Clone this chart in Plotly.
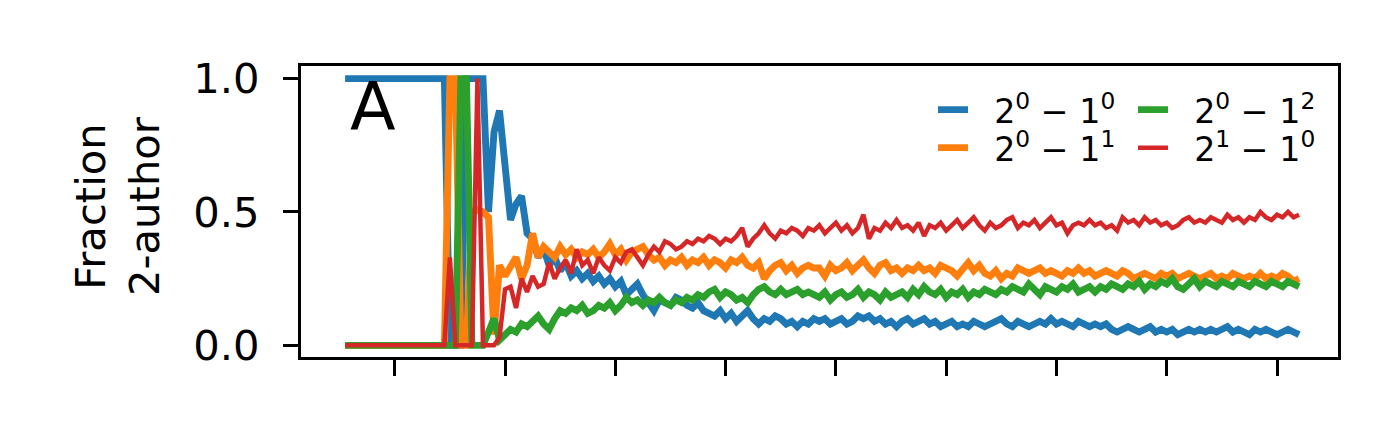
import plotly.graph_objects as go

# x positions (index of the time step)
x_values = list(range(1, 175))

# 2^0 - 1^0 (blue)
frac_2010 = (
    [1.0] * 19 + [0.0, 0.0, 0.0] + [1.0, 1.0, 1.0, 1.0] +
    [0.50, 0.80, 0.88, 0.64, 0.47, 0.53, 0.56, 0.42, 0.40, 0.33,
     0.36, 0.30, 0.33, 0.28, 0.31, 0.26, 0.28, 0.25, 0.27, 0.24,
     0.26, 0.23, 0.25, 0.22, 0.24, 0.19, 0.21, 0.23, 0.19, 0.16,
     0.13, 0.17, 0.16, 0.15, 0.18, 0.17, 0.15, 0.14, 0.16, 0.13,
     0.12, 0.11, 0.13, 0.10, 0.12, 0.09, 0.11, 0.13, 0.10, 0.08,
     0.10, 0.09, 0.11, 0.10, 0.08, 0.09, 0.07, 0.09, 0.08, 0.10,
     0.09, 0.10, 0.08, 0.09, 0.10, 0.08, 0.09, 0.11, 0.10, 0.11,
     0.09, 0.10, 0.08, 0.09, 0.07, 0.09, 0.10, 0.08, 0.09, 0.10,
     0.08, 0.09, 0.07, 0.08, 0.09, 0.07, 0.08, 0.07, 0.09, 0.08,
     0.07, 0.08, 0.09, 0.10, 0.08, 0.07, 0.09, 0.08, 0.07, 0.08,
     0.09, 0.08, 0.10, 0.08, 0.09, 0.08, 0.07, 0.09, 0.08, 0.07,
     0.08, 0.07, 0.08, 0.06, 0.05, 0.06, 0.07, 0.06, 0.05, 0.06,
     0.07, 0.05, 0.06, 0.05, 0.06, 0.04, 0.05, 0.06, 0.05, 0.06,
     0.05, 0.06, 0.05, 0.06, 0.07, 0.05, 0.06, 0.05, 0.04, 0.06,
     0.05, 0.06, 0.05, 0.04, 0.05, 0.06, 0.05, 0.04]
)

# 2^0 - 1^1 (orange)
frac_2011 = (
    [0.0] * 19 + [1.0, 1.0] + [0.0, 0.0] + [0.50, 0.51, 0.50] +
    [0.48, 0.04, 0.30, 0.26, 0.29, 0.33, 0.25, 0.30, 0.42, 0.33,
     0.37, 0.35, 0.33, 0.37, 0.34, 0.36, 0.33, 0.35, 0.34, 0.36,
     0.33, 0.35, 0.38, 0.34, 0.36, 0.32, 0.35, 0.36, 0.37, 0.34,
     0.32, 0.33, 0.30, 0.32, 0.31, 0.33, 0.30, 0.32, 0.31, 0.33,
     0.30, 0.32, 0.31, 0.29, 0.32, 0.31, 0.33, 0.30, 0.29, 0.31,
     0.25, 0.28, 0.30, 0.31, 0.28, 0.30, 0.27, 0.29, 0.30, 0.29,
     0.29, 0.26, 0.30, 0.28, 0.29, 0.31, 0.28, 0.30, 0.32, 0.29,
     0.27, 0.30, 0.31, 0.28, 0.29, 0.27, 0.29, 0.28, 0.30, 0.28,
     0.29, 0.27, 0.30, 0.29, 0.28, 0.26, 0.29, 0.31, 0.28, 0.30,
     0.27, 0.26, 0.28, 0.25, 0.27, 0.26, 0.29, 0.28, 0.27, 0.28,
     0.29, 0.27, 0.28, 0.27, 0.26, 0.28, 0.27, 0.29, 0.27, 0.28,
     0.26, 0.27, 0.28, 0.27, 0.26, 0.28, 0.27, 0.25, 0.26, 0.27,
     0.26, 0.25, 0.27, 0.26, 0.27, 0.25, 0.26, 0.27, 0.26, 0.25,
     0.26, 0.27, 0.25, 0.26, 0.25, 0.27, 0.26, 0.25, 0.26, 0.25,
     0.27, 0.25, 0.26, 0.25, 0.27, 0.26, 0.24, 0.25]
)

# 2^0 - 1^2 (green)
frac_2012 = (
    [0.0] * 21 + [1.0, 1.0] + [0.0, 0.0, 0.0] +
    [0.05, 0.10, 0.02, 0.04, 0.06, 0.05, 0.08, 0.07, 0.09, 0.11,
     0.08, 0.06, 0.10, 0.13, 0.12, 0.14, 0.13, 0.15, 0.12, 0.13,
     0.15, 0.14, 0.16, 0.13, 0.15, 0.18, 0.16, 0.17, 0.15, 0.17,
     0.16, 0.18, 0.16, 0.15, 0.17, 0.16, 0.18, 0.17, 0.19, 0.18,
     0.20, 0.21, 0.18, 0.20, 0.19, 0.17, 0.18, 0.16, 0.19, 0.21,
     0.22, 0.20, 0.19, 0.21, 0.19, 0.20, 0.21, 0.19, 0.20, 0.19,
     0.18, 0.20, 0.17, 0.19, 0.20, 0.18, 0.19, 0.21, 0.18, 0.20,
     0.19, 0.17, 0.20, 0.18, 0.19, 0.20, 0.18, 0.21, 0.19, 0.22,
     0.20, 0.19, 0.21, 0.18, 0.20, 0.19, 0.21, 0.18, 0.20, 0.19,
     0.21, 0.20, 0.19, 0.21, 0.20, 0.22, 0.21, 0.20, 0.23, 0.21,
     0.19, 0.22, 0.21, 0.20, 0.22, 0.21, 0.23, 0.20, 0.21, 0.22,
     0.20, 0.22, 0.21, 0.23, 0.22, 0.21, 0.23, 0.22, 0.24, 0.21,
     0.23, 0.22, 0.24, 0.23, 0.25, 0.22, 0.21, 0.23, 0.25, 0.22,
     0.24, 0.23, 0.22, 0.24, 0.23, 0.22, 0.24, 0.23, 0.22, 0.24,
     0.23, 0.22, 0.24, 0.23, 0.22, 0.24, 0.23, 0.22]
)

# 2^1 - 1^0 (red)
frac_2110 = (
    [0.0] * 19 + [0.33] + [0.0, 0.0, 0.0, 0.0] + [1.0] + [0.0, 0.0, 0.0] +
    [0.03, 0.21, 0.22, 0.14, 0.25, 0.20, 0.26, 0.22,
     0.23, 0.31, 0.25, 0.29, 0.32, 0.27, 0.36, 0.30, 0.32, 0.27,
     0.33, 0.30, 0.28, 0.33, 0.31, 0.35, 0.36, 0.33, 0.30, 0.34,
     0.37, 0.35, 0.39, 0.38, 0.36, 0.37, 0.39, 0.38, 0.40, 0.39,
     0.41, 0.40, 0.38, 0.40, 0.39, 0.41, 0.44, 0.37, 0.40, 0.42,
     0.45, 0.42, 0.40, 0.43, 0.42, 0.44, 0.43, 0.41, 0.44, 0.43,
     0.45, 0.42, 0.44, 0.46, 0.43, 0.45, 0.42, 0.44, 0.49, 0.40,
     0.44, 0.43, 0.46, 0.44, 0.47, 0.44, 0.45, 0.43, 0.46, 0.41,
     0.45, 0.44, 0.46, 0.43, 0.45, 0.47, 0.44, 0.46, 0.48, 0.45,
     0.43, 0.46, 0.44, 0.45, 0.47, 0.48, 0.44, 0.46, 0.45, 0.47,
     0.44, 0.46, 0.48, 0.45, 0.46, 0.42, 0.45, 0.46, 0.45, 0.47,
     0.45, 0.46, 0.44, 0.45, 0.43, 0.48, 0.46, 0.47, 0.45, 0.48,
     0.46, 0.47, 0.45, 0.46, 0.44, 0.45, 0.47, 0.48, 0.46, 0.47,
     0.46, 0.48, 0.47, 0.46, 0.49, 0.47, 0.48, 0.46, 0.48, 0.47,
     0.50, 0.48, 0.47, 0.49, 0.48, 0.50, 0.48, 0.49]
)

PAD = "\u00a0\u00a0"
series_names = [
    PAD + "2<sup>0</sup> − 1<sup>0</sup>",
    PAD + "2<sup>0</sup> − 1<sup>1</sup>",
    PAD + "2<sup>0</sup> − 1<sup>2</sup>",
    PAD + "2<sup>1</sup> − 1<sup>0</sup>",
]
series_values = [frac_2010, frac_2011, frac_2012, frac_2110]
series_colors = ["#1f77b4", "#ff7f0e", "#2ca02c", "#d62728"]
series_widths = [6.9, 6.9, 6.9, 4.5]
legend_ids = ["legend", "legend2", "legend3", "legend4"]

x_tick_vals = [10, 30, 50, 70, 90, 110, 130, 150, 170]
y_tick_vals = [0.0, 0.5, 1.0]
y_tick_text = ["0.0", "0.5", "1.0"]

FONT = "DejaVu Sans"

fig = go.Figure()
for name, vals, col, w, lg in zip(series_names, series_values, series_colors,
                                  series_widths, legend_ids):
    fig.add_trace(go.Scatter(
        x=x_values, y=vals, mode="lines", name=name,
        line=dict(color=col, width=w), legend=lg,
    ))

W, H = 1400, 438
OFF = 8  # page body offset of the rendered figure
ml, mr, mt, mb = 293, 70, 58, 89
pw, ph = W - ml - mr, H - mt - mb


def px_to_paper_x(px):
    return (px - OFF - ml) / pw


def px_to_paper_y(py):
    return (H - mb - (py - OFF)) / ph


# legend layout: two columns, two rows
leg_pos = [(933, 110), (933, 148), (1133, 110), (1133, 148)]
legend_layouts = {}
for lg, (lx, ly) in zip(legend_ids, leg_pos):
    legend_layouts[lg] = dict(
        x=px_to_paper_x(lx), y=px_to_paper_y(ly),
        xanchor="left", yanchor="middle",
        bgcolor="rgba(0,0,0,0)", borderwidth=0,
        font=dict(family=FONT, size=33.3, color="black"),
        itemwidth=30, tracegroupgap=0,
    )

fig.update_layout(
    width=W, height=H,
    margin=dict(l=ml, r=mr, t=mt, b=mb),
    paper_bgcolor="white", plot_bgcolor="white",
    showlegend=True,
    font=dict(family=FONT, size=41.7, color="black"),
    **legend_layouts,
)

fig.update_xaxes(
    range=[-7.0, 181.06], showgrid=False, zeroline=False,
    showline=True, linecolor="black", linewidth=3.3, mirror=True,
    ticks="outside", ticklen=16, tickwidth=3.3, tickcolor="black",
    tickvals=x_tick_vals, showticklabels=False,
)
fig.update_yaxes(
    range=[-0.0437, 1.0474], showgrid=False, zeroline=False,
    showline=True, linecolor="black", linewidth=3.3, mirror=True,
    ticks="outside", ticklen=15, tickwidth=3.3, tickcolor="black",
    tickvals=y_tick_vals, ticktext=y_tick_text, ticklabelstandoff=15,
    tickfont=dict(family=FONT, size=41.7, color="black"),
)

# y-axis label (two lines, rotated)
fig.add_annotation(
    text="Fraction<br>2-author", textangle=-90,
    xref="paper", yref="paper",
    x=px_to_paper_x(117), y=px_to_paper_y(206),
    xanchor="center", yanchor="middle", showarrow=False,
    font=dict(family=FONT, size=41.7, color="black"),
)

# panel letter
fig.add_annotation(
    text="A", xref="paper", yref="paper",
    x=px_to_paper_x(348), y=px_to_paper_y(65),
    xanchor="left", yanchor="top", showarrow=False,
    font=dict(family=FONT, size=66.7, color="black"),
)

fig.write_html("out.html")
